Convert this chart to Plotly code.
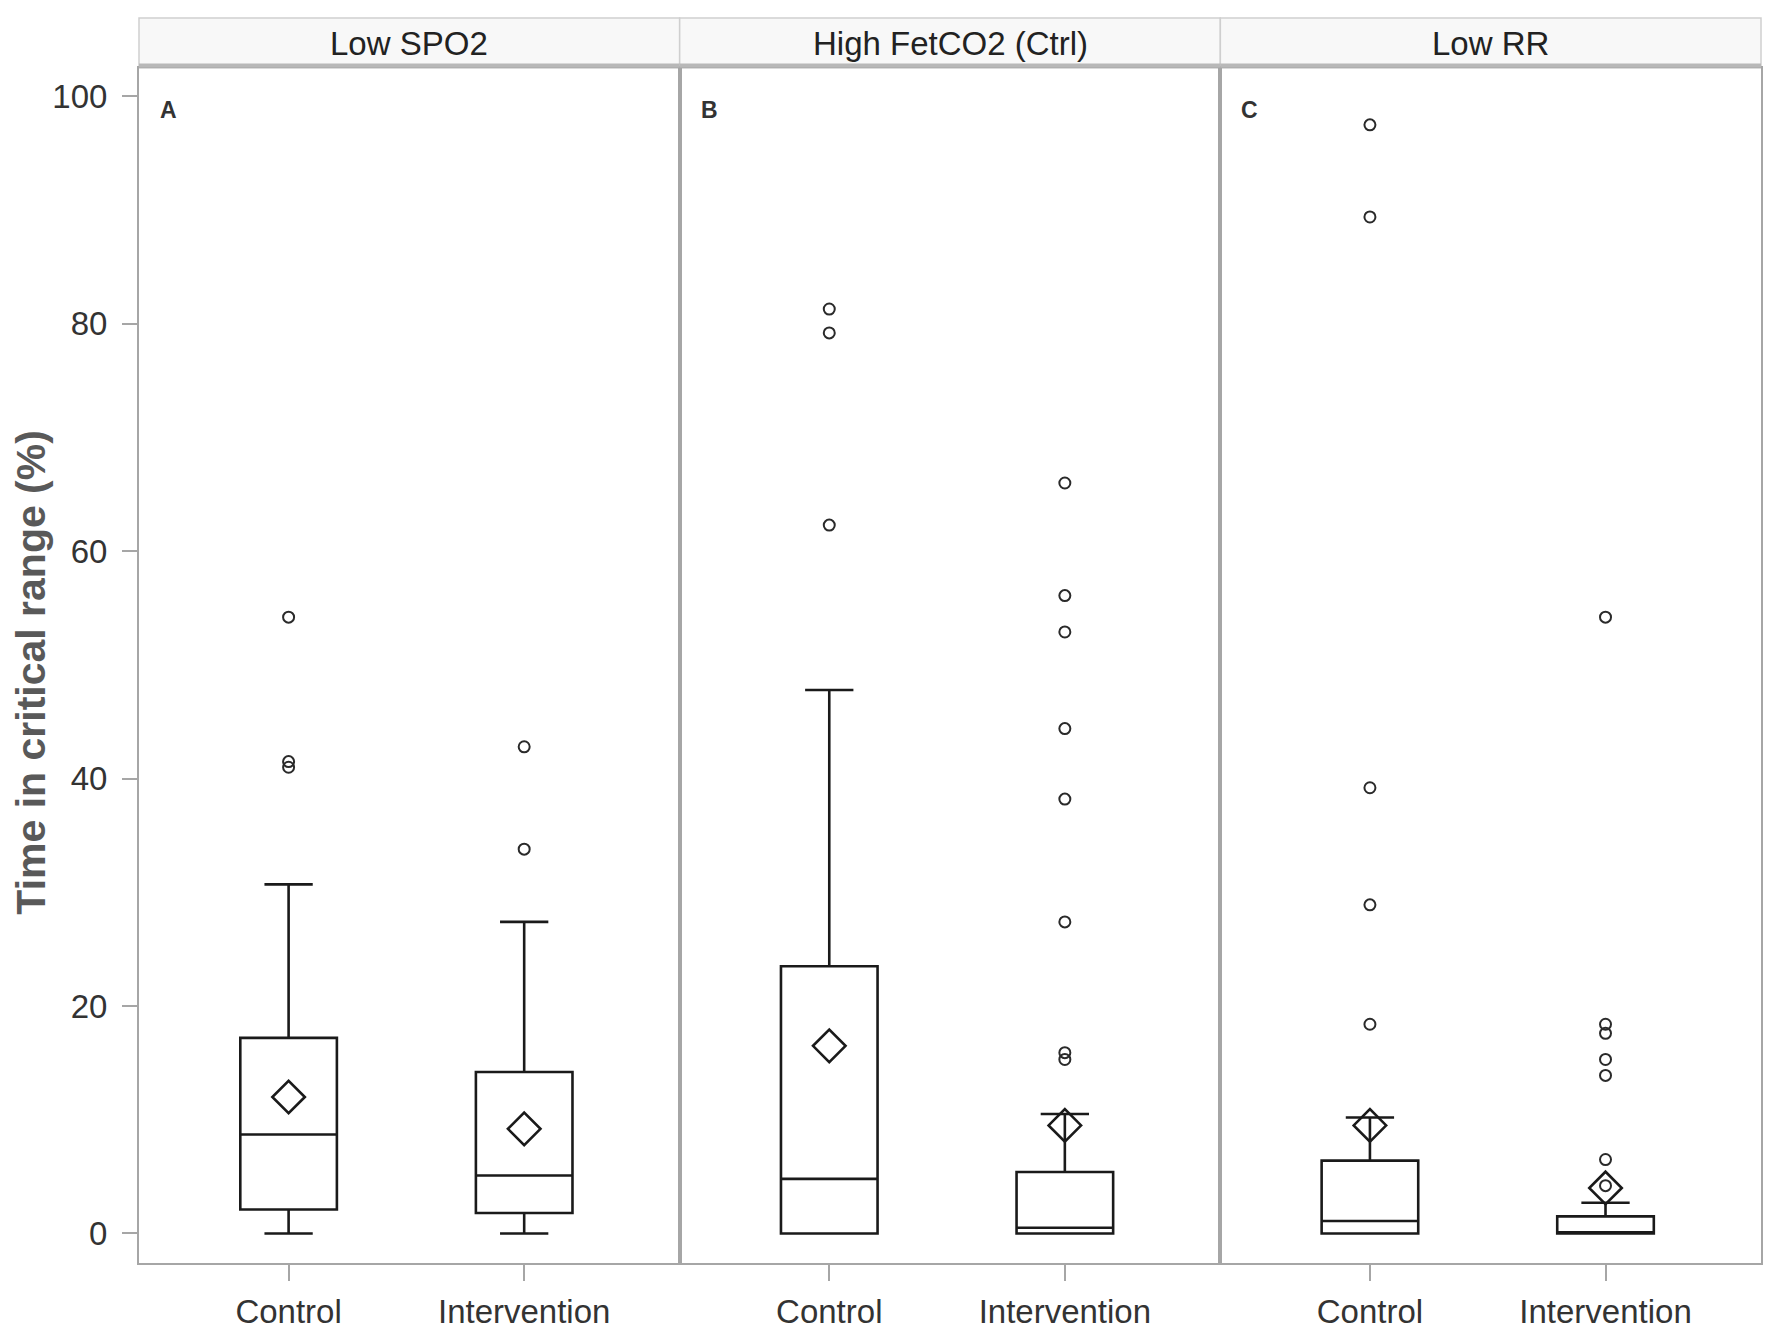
import plotly.graph_objects as go

# facets, groups and per-group box statistics
panels = ['Low SPO2', 'High FetCO2 (Ctrl)', 'Low RR']
letters = ['A', 'B', 'C']
groups = ['Control', 'Intervention']

q1 = [[2.1, 1.8], [0.0, 0.0], [0.0, 0.0]]
median = [[8.7, 5.1], [4.8, 0.5], [1.1, 0.1]]
q3 = [[17.2, 14.2], [23.5, 5.4], [6.4, 1.5]]
lower = [[0.0, 0.0], [0.0, 0.0], [0.0, 0.0]]
upper = [[30.7, 27.4], [47.8, 10.5], [10.2, 2.7]]
means = [[12.0, 9.2], [16.5, 9.5], [9.5, 4.0]]

outliers = [
    [[54.2, 41.5, 41.0], [42.8, 33.8]],
    [[81.3, 79.2, 62.3], [66.0, 56.1, 52.9, 44.4, 38.2, 27.4, 15.9, 15.3]],
    [[97.5, 89.4, 39.2, 28.9, 18.4], [54.2, 18.4, 17.6, 15.3, 13.9, 6.5, 4.2]],
]

y_ticks = [0, 20, 40, 60, 80, 100]

W, H = 1772, 1339
OFF = 8  # page body margin shifts the figure by this much
ML, MR, MT, MB = 139 - OFF, 11 + OFF, 68 - OFF, 76 + OFF
plot_w = W - ML - MR
plot_h = H - MT - MB
strip_h = 50 / plot_h

FONT = 'Liberation Sans, Arial, sans-serif'
GREY = '#a6a6a6'

fig = go.Figure()
layout = {}
shapes = []
annotations = []

for p in range(3):
    xa = 'x' if p == 0 else f'x{p + 1}'
    ya = 'y' if p == 0 else f'y{p + 1}'
    for g in range(2):
        fig.add_trace(go.Box(
            x=[groups[g]], q1=[q1[p][g]], median=[median[p][g]], q3=[q3[p][g]],
            lowerfence=[lower[p][g]], upperfence=[upper[p][g]],
            width=0.41, whiskerwidth=0.5, fillcolor='white',
            line=dict(color='#1a1a1a', width=2.6),
            xaxis=xa, yaxis=ya, showlegend=False, hoverinfo='y',
        ))
        fig.add_trace(go.Scatter(
            x=[groups[g]] * len(outliers[p][g]), y=outliers[p][g], mode='markers',
            marker=dict(symbol='circle-open', size=11, color='#2a2a2a', line=dict(width=2)),
            xaxis=xa, yaxis=ya, showlegend=False,
        ))
        fig.add_trace(go.Scatter(
            x=[groups[g]], y=[means[p][g]], mode='markers',
            marker=dict(symbol='diamond-open', size=25, color='#1a1a1a', line=dict(width=2.6)),
            xaxis=xa, yaxis=ya, showlegend=False,
        ))

    d0, d1 = p / 3, (p + 1) / 3
    layout['xaxis' if p == 0 else f'xaxis{p + 1}'] = dict(
        domain=[d0, d1], anchor=ya, type='category',
        categoryorder='array', categoryarray=groups,
        range=[-0.635, 1.66], showgrid=False, zeroline=False,
        showline=True, mirror=True, linecolor=GREY, linewidth=2,
        ticks='outside', ticklen=16, tickcolor=GREY, tickwidth=1.5,
        ticklabelstandoff=2,
        tickfont=dict(family=FONT, size=33, color='#333333'),
    )
    layout['yaxis' if p == 0 else f'yaxis{p + 1}'] = dict(
        domain=[0, 1], anchor=xa, range=[-2.6, 102.5],
        tickvals=y_ticks, showticklabels=(p == 0),
        ticks='outside' if p == 0 else '', ticklen=15, tickcolor=GREY, tickwidth=1.5,
        ticklabelstandoff=8,
        showgrid=False, zeroline=False,
        showline=True, mirror=True, linecolor=GREY, linewidth=2,
        tickfont=dict(family=FONT, size=33, color='#333333'),
    )

    # facet strip on top
    shapes.append(dict(type='rect', xref='paper', yref='paper',
                       x0=d0, x1=d1, y0=1, y1=1 + strip_h,
                       fillcolor='#f8f8f8', line=dict(color='#cfcfcf', width=1.5), layer='below'))
    shapes.append(dict(type='line', xref='paper', yref='paper',
                       x0=d0, x1=d1, y0=1.002, y1=1.002,
                       line=dict(color='#b8b8b8', width=4)))
    annotations.append(dict(text=panels[p], xref='paper', yref='paper',
                            x=(d0 + d1) / 2, y=1 + strip_h / 2, showarrow=False,
                            xanchor='center', yanchor='middle',
                            font=dict(family=FONT, size=33, color='#222222')))
    annotations.append(dict(text=f'<b>{letters[p]}</b>', xref=f'{xa} domain', yref=ya,
                            x=0.035, y=98.8, showarrow=False,
                            xanchor='left', yanchor='middle',
                            font=dict(family=FONT, size=23, color='#333333')))

annotations.append(dict(text='<b>Time in critical range (%)</b>', xref='paper', yref='paper',
                        x=(31 - OFF - ML) / plot_w, y=0.494, textangle=-90, showarrow=False,
                        xanchor='center', yanchor='middle',
                        font=dict(family=FONT, size=41, color='#595959')))

fig.update_layout(
    width=W, height=H,
    margin=dict(l=ML, r=MR, t=MT, b=MB),
    paper_bgcolor='white', plot_bgcolor='white',
    shapes=shapes, annotations=annotations,
    showlegend=False,
    **layout,
)

fig.write_html('out.html')
